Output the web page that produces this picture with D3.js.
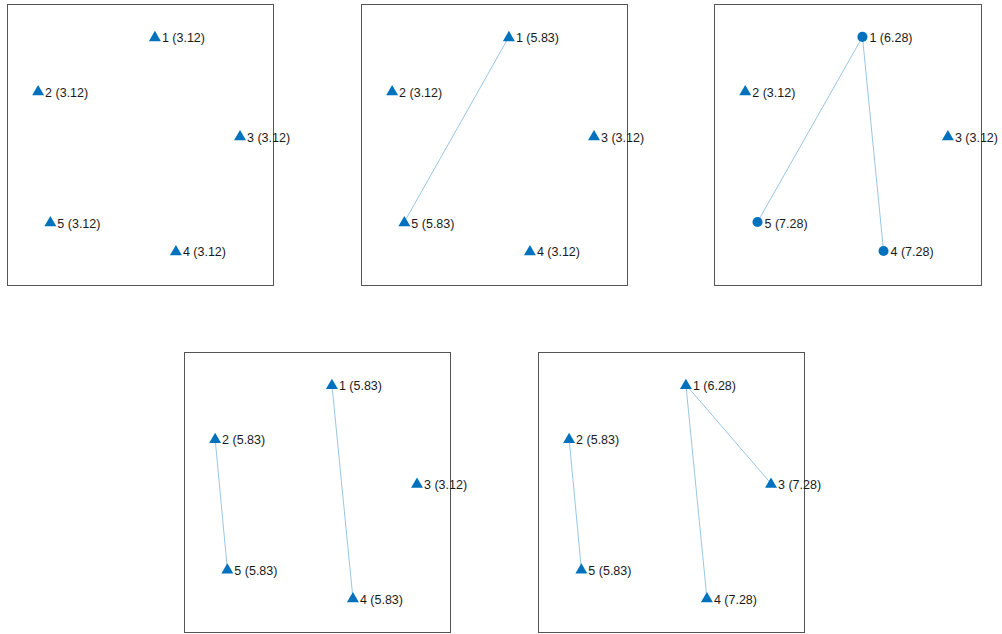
<!DOCTYPE html>
<html>
<head>
<meta charset="utf-8">
<script src="https://cdn.jsdelivr.net/npm/d3@7"></script>
<style>
  html, body { margin: 0; padding: 0; background: #fff; }
  svg { display: block; }
  text { font-family: "Liberation Sans", Arial, sans-serif; }
</style>
</head>
<body>
<svg id="chart" width="1002" height="634"></svg>
<script>
// Node ids and their shared layout (normalized, y upward)
const nodeIds = [1, 2, 3, 4, 5];
const layoutX = [0.556, 0.117, 0.876, 0.635, 0.163];
const layoutY = [0.883, 0.690, 0.530, 0.121, 0.224];

// Node values per step
const valuesStep1 = [3.12, 3.12, 3.12, 3.12, 3.12];
const valuesStep2 = [5.83, 3.12, 3.12, 3.12, 5.83];
const valuesStep3 = [6.28, 3.12, 3.12, 7.28, 7.28];
const valuesStep4 = [5.83, 5.83, 3.12, 5.83, 5.83];
const valuesStep5 = [6.28, 5.83, 7.28, 7.28, 5.83];

// Edges per step (source, target)
const edgesStep1 = [];
const edgesStep2 = [[1, 5]];
const edgesStep3 = [[1, 5], [1, 4]];
const edgesStep4 = [[1, 4], [2, 5]];
const edgesStep5 = [[1, 4], [1, 3], [2, 5]];

// Marker kind per node per step
const markersStep1 = ["tri", "tri", "tri", "tri", "tri"];
const markersStep2 = ["tri", "tri", "tri", "tri", "tri"];
const markersStep3 = ["dot", "tri", "tri", "dot", "dot"];
const markersStep4 = ["tri", "tri", "tri", "tri", "tri"];
const markersStep5 = ["tri", "tri", "tri", "tri", "tri"];

const steps = [
  { values: valuesStep1, edges: edgesStep1, markers: markersStep1, box: [7, 4, 273, 285] },
  { values: valuesStep2, edges: edgesStep2, markers: markersStep2, box: [361, 4, 627, 285] },
  { values: valuesStep3, edges: edgesStep3, markers: markersStep3, box: [714, 4, 981, 285] },
  { values: valuesStep4, edges: edgesStep4, markers: markersStep4, box: [184, 352, 450, 632] },
  { values: valuesStep5, edges: edgesStep5, markers: markersStep5, box: [538, 352, 804, 632] }
];

const nodeColor = "#0072BD";
const svg = d3.select("#chart");

const triangle = d3.symbol().type(d3.symbolTriangle).size(62);
const dot = d3.symbol().type(d3.symbolCircle).size(80);

steps.forEach(step => {
  const [x0, y0, x1, y1] = step.box;
  const x = d3.scaleLinear().domain([0, 1]).range([x0, x1]);
  const y = d3.scaleLinear().domain([0, 1]).range([y1, y0]);

  const g = svg.append("g");

  g.append("rect")
    .attr("x", x0 + 0.5).attr("y", y0 + 0.5)
    .attr("width", x1 - x0).attr("height", y1 - y0)
    .attr("fill", "#fff")
    .attr("stroke", "#555")
    .attr("stroke-width", 1);

  const nodes = nodeIds.map((id, i) => ({
    id, px: x(layoutX[i]), py: y(layoutY[i]),
    value: step.values[i], marker: step.markers[i]
  }));
  const byId = new Map(nodes.map(n => [n.id, n]));

  g.selectAll("line.edge")
    .data(step.edges)
    .join("line")
    .attr("class", "edge")
    .attr("x1", d => byId.get(d[0]).px)
    .attr("y1", d => byId.get(d[0]).py)
    .attr("x2", d => byId.get(d[1]).px)
    .attr("y2", d => byId.get(d[1]).py)
    .attr("stroke", nodeColor)
    .attr("stroke-opacity", 0.45)
    .attr("stroke-width", 0.9);

  g.selectAll("path.node")
    .data(nodes)
    .join("path")
    .attr("class", "node")
    .attr("transform", d => `translate(${d.px},${d.marker === "tri" ? d.py + 0.8 : d.py})`)
    .attr("d", d => d.marker === "tri" ? triangle() : dot())
    .attr("fill", nodeColor);

  g.selectAll("text.label")
    .data(nodes)
    .join("text")
    .attr("class", "label")
    .attr("x", d => d.px + 7)
    .attr("y", d => d.py + 1.5)
    .attr("dominant-baseline", "central")
    .attr("font-size", 12.5)
    .attr("fill", "#1a1a1a")
    .text(d => `${d.id} (${d.value.toFixed(2)})`);
});
</script>
</body>
</html>
